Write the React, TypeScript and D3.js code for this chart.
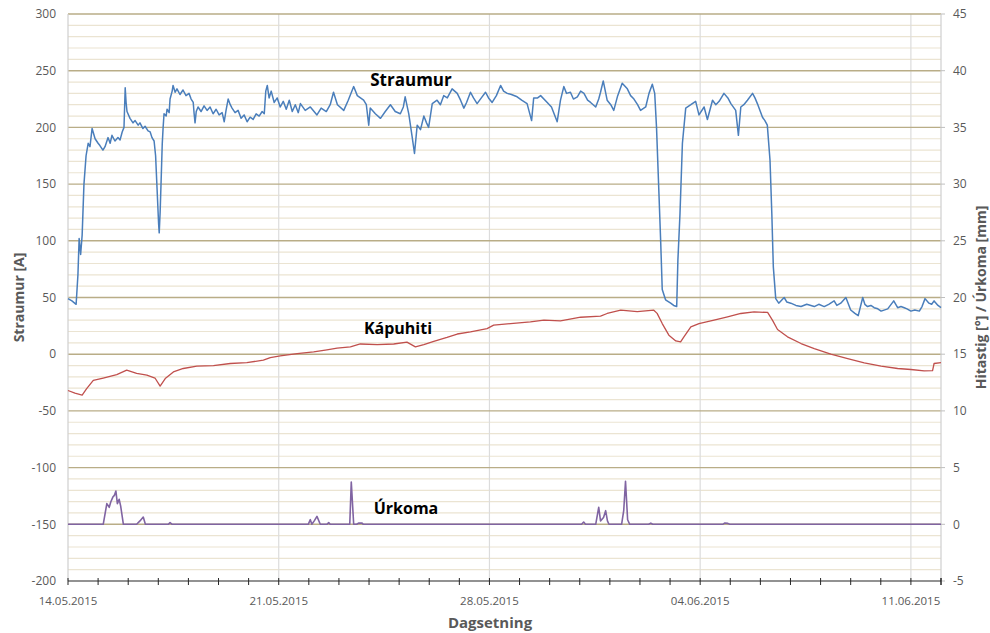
import React from "react";
import * as d3 from "d3";

// day offsets from 14.05.2015 00:00
const straumurDays = [0,0.13,0.27,0.33,0.37,0.42,0.47,0.53,0.6,0.67,0.73,0.8,0.9,1,1.06,1.16,1.23,1.33,1.4,1.46,1.56,1.66,1.73,1.8,1.86,1.9,1.93,1.96,2.06,2.16,2.23,2.33,2.39,2.49,2.56,2.66,2.73,2.79,2.86,2.91,2.96,3.01,3.03,3.06,3.09,3.13,3.16,3.19,3.26,3.29,3.36,3.39,3.46,3.49,3.56,3.62,3.72,3.82,3.92,4.02,4.09,4.16,4.19,4.22,4.26,4.32,4.42,4.52,4.62,4.72,4.82,4.92,5.02,5.12,5.19,5.25,5.32,5.39,5.45,5.55,5.65,5.75,5.85,5.95,6.05,6.15,6.25,6.35,6.45,6.52,6.57,6.62,6.68,6.75,6.85,6.95,7.05,7.15,7.25,7.35,7.45,7.55,7.65,7.72,7.88,8.05,8.27,8.41,8.58,8.71,8.82,8.95,9.16,9.31,9.49,9.61,9.82,9.91,9.99,10.04,10.21,10.38,10.54,10.71,10.87,11.04,11.14,11.2,11.32,11.43,11.51,11.6,11.71,11.82,11.91,11.98,12.1,12.26,12.37,12.48,12.6,12.76,12.93,13.04,13.15,13.24,13.37,13.47,13.59,13.73,13.87,13.97,14.09,14.23,14.37,14.47,14.59,14.73,14.92,15.07,15.25,15.4,15.47,15.6,15.7,15.92,16.06,16.25,16.36,16.47,16.56,16.69,16.79,16.92,17.03,17.14,17.26,17.36,17.53,17.63,17.69,17.78,17.91,18.03,18.13,18.26,18.41,18.58,18.69,18.8,18.92,19.02,19.19,19.3,19.41,19.49,19.55,19.63,19.69,19.74,19.85,20.02,20.12,20.22,20.26,20.33,20.41,20.52,20.69,20.85,20.96,21.13,21.24,21.41,21.52,21.63,21.79,21.92,22.02,22.18,22.27,22.35,22.45,22.57,22.74,22.82,22.9,23.07,23.15,23.23,23.32,23.38,23.43,23.51,23.61,23.79,23.88,24.01,24.18,24.35,24.54,24.79,24.94,25.12,25.27,25.45,25.54,25.67,25.84,26,26.14,26.25,26.4,26.47,26.56,26.67,26.78,26.9,27.01,27.23,27.43,27.56,27.67,27.78,27.87,28,28.13,28.28,28.37,28.47,28.6,28.69,28.77,28.9,29];
const straumurValues = [49,47,44,70,102,88,105,150,175,186,183,199,190,186,184,180,183,191,186,193,188,191,189,196,200,235,222,214,208,204,206,202,204,199,201,197,196,191,188,175,145,115,107,125,150,185,200,212,210,216,213,225,232,237,231,234,229,233,228,230,225,222,212,204,214,218,214,219,215,218,212,216,211,213,205,215,225,220,217,213,215,208,211,205,209,207,212,210,214,212,232,237,226,232,222,226,218,223,216,224,214,220,213,221,215,218,211,217,214,220,231,220,215,224,236,228,224,220,202,217,212,208,214,220,214,212,218,227,212,192,177,202,198,210,204,200,221,224,220,228,226,234,230,224,217,222,231,226,221,226,231,226,222,228,237,232,230,229,227,224,221,206,226,226,228,222,218,205,224,236,230,231,225,227,232,230,224,222,218,225,231,241,224,220,215,228,239,234,228,225,220,215,218,230,238,230,200,142,98,57,48,45,43,42,83,124,186,217,220,223,211,218,207,224,220,223,230,226,221,215,193,218,220,224,230,226,221,209,206,202,171,124,77,49,45,50,46,45,43,42,44,42,44,42,44,47,43,45,50,39,36,34,50,44,42,43,41,40,38,40,47,41,42,41,40,38,39,38,42,49,45,44,47,43,41];

const kapuDays = [0,0.23,0.47,0.62,0.84,1.17,1.62,1.95,2.28,2.62,2.89,3.06,3.23,3.5,3.83,4.28,4.83,5.39,5.94,6.49,6.72,7.05,7.61,8.16,8.6,8.94,9.38,9.71,10.27,10.82,11.26,11.54,11.82,12.15,12.59,12.93,13.37,13.92,14.14,14.7,15.36,15.81,16.36,17.03,17.69,17.91,18.36,18.91,19.46,19.57,19.74,19.96,20.19,20.35,20.46,20.69,20.96,21.46,21.91,22.35,22.79,23.24,23.4,23.57,23.9,24.35,24.79,25.34,25.9,26.45,27.01,27.56,28,28.44,28.72,28.77,29];
const kapuValues = [11.8,11.56,11.4,11.96,12.7,12.9,13.2,13.59,13.3,13.15,12.9,12.18,12.85,13.44,13.74,13.94,14,14.18,14.26,14.47,14.7,14.85,15.05,15.2,15.38,15.53,15.65,15.9,15.85,15.9,16.06,15.65,15.85,16.13,16.48,16.78,16.97,17.26,17.56,17.7,17.85,18,17.94,18.26,18.35,18.59,18.88,18.75,18.88,18.6,17.7,16.68,16.17,16.09,16.53,17.41,17.7,18,18.29,18.59,18.73,18.68,18,17.18,16.53,15.94,15.5,15,14.62,14.23,13.94,13.74,13.65,13.53,13.55,14.18,14.26];

const urkomaDays = [0,1.17,1.29,1.37,1.42,1.49,1.54,1.59,1.64,1.7,1.75,1.84,2.28,2.39,2.5,2.57,3.33,3.39,3.46,7.98,8.05,8.1,8.18,8.27,8.38,8.6,8.66,8.71,9.36,9.41,9.49,9.59,9.65,9.77,9.81,17.06,17.13,17.19,17.53,17.63,17.69,17.79,17.86,17.92,17.97,18.39,18.46,18.52,18.59,18.66,19.29,19.36,19.42,21.75,21.82,21.92,21.98,29];
const urkomaValues = [0,0,1.82,1.5,1.97,2.4,2.55,2.94,1.82,2.2,1.6,0,0,0.3,0.64,0,0,0.15,0,0,0.41,0,0.3,0.7,0,0,0.15,0,0,3.73,0,0,0.1,0.1,0,0,0.2,0,0,1.5,0.3,0.6,1.2,0.3,0,0,1.2,3.8,0.4,0,0,0.1,0,0,0.12,0.08,0,0];

const leftTicks = [-200,-150,-100,-50,0,50,100,150,200,250,300];
const rightTicks = [-5,0,5,10,15,20,25,30,35,40,45];
const dateLabels = ["14.05.2015","21.05.2015","28.05.2015","04.06.2015","11.06.2015"];

const W = 990, H = 633;
const M = { left: 68, right: 941, top: 14, bottom: 581 };
const FONT = "'Open Sans', 'Liberation Sans', sans-serif";
const GRAY = "#595959";

export default function App() {
  const x = d3.scaleLinear().domain([0, 29]).range([M.left, M.right]);
  const yL = d3.scaleLinear().domain([-200, 300]).range([M.bottom, M.top]);
  const yR = d3.scaleLinear().domain([-5, 45]).range([M.bottom, M.top]);

  const mk = (days: number[], vals: number[], y: d3.ScaleLinear<number, number>) =>
    d3.line<number>().x((_, i) => x(days[i])).y((v) => y(v))(vals) || "";

  const minor = d3.range(-200, 301, 10).filter((v) => v % 50 !== 0);
  const dayTicks = d3.range(0, 30, 1);

  return (
    <svg width={W} height={H} style={{ position: "absolute", left: 0, top: 0, background: "#fff" }} fontFamily={FONT}>
      {/* minor grid */}
      {minor.map((v) => (
        <line key={"mi" + v} x1={M.left} x2={M.right} y1={yL(v)} y2={yL(v)} stroke="#ebe4d2" strokeWidth={1.2} />
      ))}
      {/* vertical grid */}
      {[7, 14, 21, 28].map((d) => (
        <line key={"vg" + d} x1={x(d)} x2={x(d)} y1={M.top} y2={M.bottom} stroke="#dcdcdc" strokeWidth={1.2} />
      ))}
      {/* major grid */}
      {leftTicks.filter((v) => v > -200).map((v) => (
        <line key={"ma" + v} x1={M.left} x2={M.right} y1={yL(v)} y2={yL(v)} stroke="#b9ad87" strokeWidth={1.4} />
      ))}
      {/* left & right axis lines */}
      <line x1={M.left} x2={M.left} y1={M.top} y2={M.bottom} stroke="#cfcfcf" strokeWidth={1.2} />
      <line x1={M.right} x2={M.right} y1={M.top} y2={M.bottom} stroke="#cfcfcf" strokeWidth={1.2} />
      {rightTicks.map((v) => (
        <line key={"rt" + v} x1={M.right} x2={M.right + 4} y1={yR(v)} y2={yR(v)} stroke="#bfbfbf" />
      ))}

      {/* series */}
      <path d={mk(urkomaDays, urkomaValues, yR)} fill="none" stroke="#8064a2" strokeWidth={1.6} strokeLinejoin="round" />
      <path d={mk(kapuDays, kapuValues, yR)} fill="none" stroke="#c0504d" strokeWidth={1.3} strokeLinejoin="round" />
      <path d={mk(straumurDays, straumurValues, yL)} fill="none" stroke="#4a7ebb" strokeWidth={1.5} strokeLinejoin="round" />

      {/* bottom axis */}
      <line x1={M.left} x2={M.right} y1={M.bottom} y2={M.bottom} stroke="#262626" strokeWidth={1.2} />
      {dayTicks.map((d) => (
        <line key={"dt" + d} x1={x(d)} x2={x(d)} y1={M.bottom - 3} y2={M.bottom + 4} stroke="#262626" strokeWidth={1} />
      ))}
      <line x1={M.right} x2={M.right} y1={M.bottom - 3} y2={M.bottom + 4} stroke="#262626" strokeWidth={1} />

      {/* tick labels */}
      {leftTicks.map((v) => (
        <text key={"lt" + v} x={56} y={yL(v)} dy="0.35em" textAnchor="end" fontSize={12} fill={GRAY}>{v}</text>
      ))}
      {rightTicks.map((v) => (
        <text key={"rl" + v} x={953} y={yR(v)} dy="0.35em" textAnchor="start" fontSize={12} fill={GRAY}>{v}</text>
      ))}
      {dateLabels.map((t, i) => (
        <text key={t} x={x(i * 7)} y={601} dy="0.35em" textAnchor="middle" fontSize={11.5} fill={GRAY}>{t}</text>
      ))}

      {/* axis titles */}
      <text transform={`translate(24,${(M.top + M.bottom) / 2}) rotate(-90)`} textAnchor="middle" fontSize={14} fontWeight="bold" fill={GRAY}>Straumur [A]</text>
      <text transform={`translate(986,${(M.top + M.bottom) / 2}) rotate(-90)`} textAnchor="middle" fontSize={14} fontWeight="bold" fill={GRAY}>Hitastig [°] / Úrkoma [mm]</text>
      <text x={490} y={628} textAnchor="middle" fontSize={15} fontWeight="bold" fill={GRAY}>Dagsetning</text>

      {/* series labels */}
      <text x={411} y={86} textAnchor="middle" fontSize={17} fontWeight="bold" fill="#000">Straumur</text>
      <text x={398} y={334} textAnchor="middle" fontSize={16} fontWeight="bold" fill="#000">Kápuhiti</text>
      <text x={406} y={514} textAnchor="middle" fontSize={16} fontWeight="bold" fill="#000">Úrkoma</text>
    </svg>
  );
}
